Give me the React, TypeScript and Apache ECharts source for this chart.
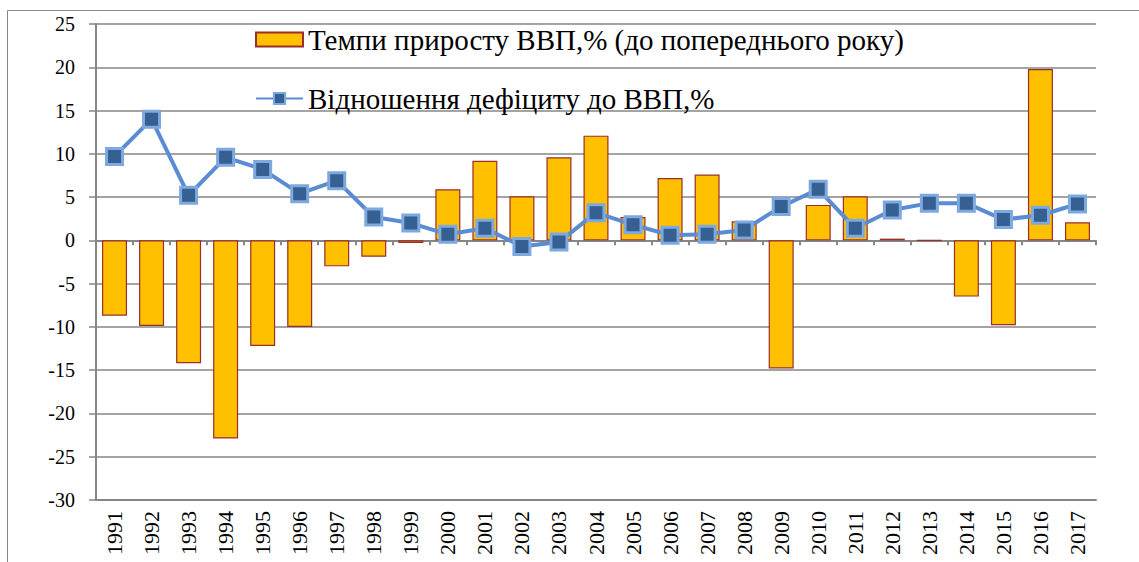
import React, { useEffect, useRef } from "react";
import * as echarts from "echarts";

const years = ["1991","1992","1993","1994","1995","1996","1997","1998","1999","2000","2001","2002","2003","2004","2005","2006","2007","2008","2009","2010","2011","2012","2013","2014","2015","2016","2017"];
const gdpGrowth = [-8.7, -9.9, -14.2, -22.9, -12.2, -10.0, -3.0, -1.9, -0.3, 5.9, 9.2, 5.1, 9.6, 12.1, 2.7, 7.2, 7.6, 2.2, -14.8, 4.1, 5.1, 0.2, 0.0, -6.5, -9.8, 19.8, 2.1];
const deficitRatio = [9.7, 14.0, 5.2, 9.6, 8.2, 5.4, 6.9, 2.7, 2.0, 0.7, 1.4, -0.7, -0.2, 3.2, 1.8, 0.6, 0.7, 1.2, 3.9, 5.9, 1.4, 3.5, 4.3, 4.3, 2.4, 2.9, 4.2];
const yMin = -30;
const yMax = 25;
const yStep = 5;
const seriesNames = ["Темпи приросту ВВП,% (до попереднього року)", "Відношення дефіциту до ВВП,%"];

export default function App() {
  const ref = useRef<HTMLDivElement>(null);
  useEffect(() => {
    if (!ref.current) return;
    const chart = echarts.init(ref.current, null, { renderer: "svg" });
    const font = "'Liberation Serif', 'Times New Roman', serif";
    chart.setOption({
      animation: false,
      backgroundColor: "#ffffff",
      textStyle: { fontFamily: font },
      graphic: [
        { type: "line", shape: { x1: 7.5, y1: 10.5, x2: 1139, y2: 10.5 }, style: { stroke: "#8a8a8a", lineWidth: 1 } },
        { type: "line", shape: { x1: 7.5, y1: 10.5, x2: 7.5, y2: 562 }, style: { stroke: "#8a8a8a", lineWidth: 1 } },
      ],
      legend: {
        orient: "vertical",
        left: 250,
        top: 20,
        itemGap: 30,
        itemWidth: 47,
        itemHeight: 14,
        textStyle: { fontFamily: font, fontSize: 29, lineHeight: 26, color: "#000" },
        data: [
          { name: seriesNames[0], icon: "rect" },
          { name: seriesNames[1] },
        ],
      },
      grid: { left: 96, right: 43, top: 24, bottom: 62, containLabel: false },
      xAxis: [
        {
          type: "category",
          data: years,
          axisLine: { onZero: false, lineStyle: { color: "#868686", width: 2 } },
          axisTick: { show: false },
          axisLabel: { rotate: 90, fontFamily: font, fontSize: 22, color: "#000", margin: 11, interval: 0 },
        },
        {
          type: "category",
          data: years,
          position: "bottom",
          axisLine: { onZero: true, lineStyle: { color: "#868686", width: 2 } },
          axisTick: { show: true, length: 5, inside: false, lineStyle: { color: "#868686", width: 2 } },
          axisLabel: { show: false },
        },
      ],
      yAxis: {
        type: "value",
        min: yMin,
        max: yMax,
        interval: yStep,
        axisLine: { show: true, lineStyle: { color: "#868686", width: 2 } },
        axisTick: { show: true, length: 7, lineStyle: { color: "#868686", width: 1.5 } },
        axisLabel: { fontFamily: font, fontSize: 20, color: "#000", margin: 21 },
        splitLine: { show: true, lineStyle: { color: "#868686", width: 1.5 } },
      },
      series: [
        {
          name: seriesNames[0],
          type: "bar",
          xAxisIndex: 0,
          data: gdpGrowth,
          barWidth: 25,
          itemStyle: { color: "#FFC000", borderColor: "#9b2d2a", borderWidth: 1.2 },
          z: 2,
        },
        {
          name: seriesNames[1],
          type: "line",
          xAxisIndex: 0,
          data: deficitRatio,
          symbol: "rect",
          symbolSize: 16,
          lineStyle: { color: "#5a8bd3", width: 4 },
          itemStyle: { color: "#376092", borderColor: "#7ea8e0", borderWidth: 3 },
          z: 3,
        },
      ],
    });
    return () => chart.dispose();
  }, []);
  return <div ref={ref} style={{ position: "fixed", left: 0, top: 0, width: 1139, height: 562 }} />;
}
